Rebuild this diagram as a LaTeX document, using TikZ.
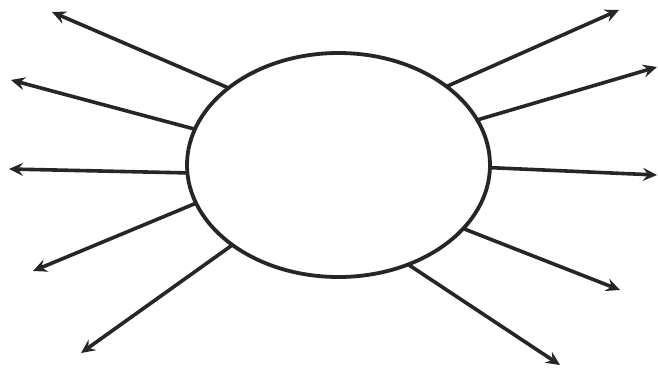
\documentclass[tikz,border=0pt]{standalone}
\usetikzlibrary{shapes.geometric,arrows.meta}
\begin{document}
\begin{tikzpicture}[x=1pt,y=-1pt,
  ray/.style={line width=3.6pt,draw=black!85,-{Stealth[length=14pt,width=13pt,inset=5pt]}},
  oval/.style={ellipse,draw=black!85,line width=3.8pt,minimum width=303pt,minimum height=224pt,inner sep=0pt,outer sep=0pt}]
\useasboundingbox (0,0) rectangle (658,369);
\node[oval] (e) at (338.5,165) {};
\coordinate (t1) at (52,12);
\coordinate (t2) at (11,80);
\coordinate (t3) at (9,169);
\coordinate (t4) at (33,271);
\coordinate (t5) at (81,353);
\coordinate (t6) at (619,10);
\coordinate (t7) at (657,67);
\coordinate (t8) at (657,175);
\coordinate (t9) at (620,290);
\coordinate (t10) at (560,365);
\draw[ray] (e.145.4) -- (t1);
\draw[ray] (e.166.7) -- (t2);
\draw[ray] (e.183.4) -- (t3);
\draw[ray] (e.195.6) -- (t4);
\draw[ray] (e.217.7) -- (t5);
\draw[ray] (e.36.2) -- (t6);
\draw[ray] (e.18.2) -- (t7);
\draw[ray] (e.-1.9) -- (t8);
\draw[ray] (e.-27) -- (t9);
\draw[ray] (e.-55) -- (t10);
\end{tikzpicture}
\end{document}
